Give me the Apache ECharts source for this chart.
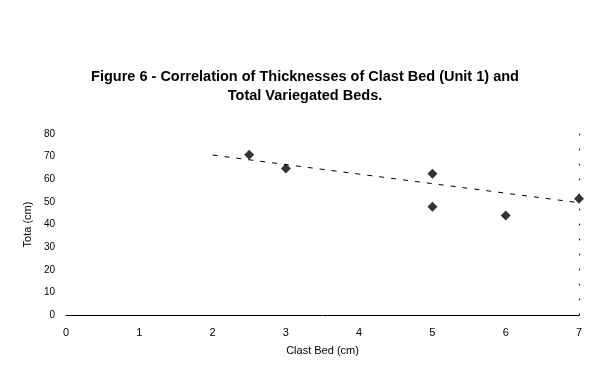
<!DOCTYPE html>
<html><head><meta charset="utf-8">
<script src="https://cdn.jsdelivr.net/npm/echarts@6/dist/echarts.min.js"></script>
<style>html,body{margin:0;padding:0;background:#fff}#c{width:600px;height:379px}</style>
</head><body><div id="c"></div>
<script>
const xTicks = [0,1,2,3,4,5,6,7];
const yTicks = [0,10,20,30,40,50,60,70,80];
const clastBed = [2.5, 3, 5, 5, 6, 7];
const totalBeds = [70.8, 64.8, 62.4, 47.8, 44.0, 51.4];
const trendX = [2, 7.15];
const trendY = [70.7, 49.0];

const chart = echarts.init(document.getElementById('c'), null, {renderer:'canvas'});
chart.setOption({
  animation:false,
  backgroundColor:'#fff',
  title:{
    text:'Figure 6 - Correlation of Thicknesses of Clast Bed (Unit 1) and\nTotal Variegated Beds.',
    left:300, top:62, textAlign:'center',
    textStyle:{fontFamily:'Liberation Sans',fontSize:14.5,fontWeight:'bold',color:'#000',lineHeight:19}
  },
  grid:{left:66,right:21,top:134,bottom:64},
  xAxis:{
    type:'value',min:0,max:7,interval:1,
    name:'Clast Bed (cm)',nameLocation:'middle',nameGap:30,
    nameTextStyle:{fontFamily:'Liberation Sans',fontSize:11,color:'#000'},
    axisLine:{show:true,lineStyle:{color:'#000',width:1}},
    axisTick:{show:false},
    axisLabel:{fontFamily:'Liberation Sans',fontSize:11,color:'#000',margin:12,
      formatter:v=>xTicks.includes(v)?String(v):''},
    splitLine:{show:false}
  },
  yAxis:[{
    type:'value',min:0,max:80,interval:10,
    name:'Tota (cm)',nameLocation:'middle',nameGap:8,nameRotate:90,
    nameTextStyle:{fontFamily:'Liberation Sans',fontSize:11,color:'#000'},
    axisLine:{show:false},
    axisTick:{show:false},
    axisLabel:{fontFamily:'Liberation Sans',fontSize:10,color:'#000',margin:11,
      formatter:v=>yTicks.includes(v)?String(v):''},
    splitLine:{show:false}
  },{
    type:'value',min:0,max:80,interval:10,position:'right',
    axisLine:{show:true,lineStyle:{color:'#000',width:1,type:[1,14]}},
    axisTick:{show:false},axisLabel:{show:false},splitLine:{show:false}
  }],
  series:[{
    type:'scatter',
    data:clastBed.map((x,i)=>[x,totalBeds[i]]),
    symbol:'diamond',symbolSize:10,
    itemStyle:{color:'#000'}
  },{
    type:'line',
    data:trendX.map((x,i)=>[x,trendY[i]]),
    symbol:'none',
    lineStyle:{color:'#000',width:1,type:[5,7]}
  }]
});
</script></body></html>
